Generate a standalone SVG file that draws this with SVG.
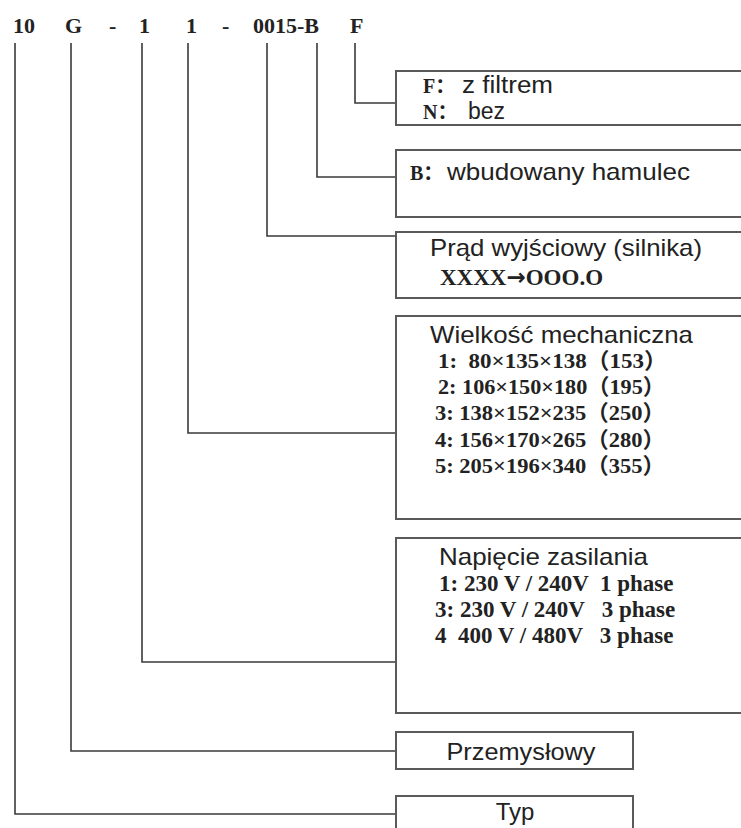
<svg xmlns="http://www.w3.org/2000/svg" width="741" height="828" viewBox="0 0 741 828">
<style>
.box{fill:#fff;stroke:#5a5a5a;stroke-width:2}
.con{fill:none;stroke:#3a3a3a;stroke-width:1.6}
.hd{font-family:"Liberation Serif","Times New Roman",serif;font-weight:bold;font-size:22px;fill:#222}
.sans{font-family:"Liberation Sans",Arial,sans-serif;font-size:24px;fill:#222}
.sm{font-family:"Liberation Sans",Arial,sans-serif;font-size:23px;fill:#222}
.ser{font-family:"Liberation Serif","Times New Roman","Noto Sans CJK SC",serif;font-weight:bold;font-size:22px;fill:#222}
.ser5{font-family:"Liberation Serif","Times New Roman",serif;font-weight:bold;font-size:23px;fill:#222}
.arr{font-family:"DejaVu Sans",sans-serif;font-weight:bold}
.lbl{font-family:"Liberation Serif","Times New Roman","Noto Sans CJK SC",serif;font-weight:bold;font-size:20px;fill:#222}
</style>
<rect width="741" height="828" fill="#fff"/>
<g id="header">
<text class="hd" x="13" y="33">10</text>
<text class="hd" x="65" y="33">G</text>
<text class="hd" x="109" y="33">-</text>
<text class="hd" x="139" y="33">1</text>
<text class="hd" x="186" y="33">1</text>
<text class="hd" x="222" y="33">-</text>
<text class="hd" x="253" y="33">0015-B</text>
<text class="hd" x="350" y="33">F</text>
</g>
<g id="connectors">
<polyline class="con" points="355,43 355,103 396,103"/>
<polyline class="con" points="317,43 317,177 396,177"/>
<polyline class="con" points="267,43 267,236 396,236"/>
<polyline class="con" points="188,43 188,433 396,433"/>
<polyline class="con" points="142,43 142,662 396,662"/>
<polyline class="con" points="71,43 71,751 396,751"/>
<polyline class="con" points="15,43 15,814 396,814"/>
</g>
<g id="node-filter">
<rect class="box" x="396" y="71" width="400" height="54"/>
<text class="lbl" x="423" y="93">F：</text>
<text class="sm" x="462" y="93" textLength="91" lengthAdjust="spacingAndGlyphs">z filtrem</text>
<text class="lbl" x="423" y="119">N：</text>
<text class="sm" x="468" y="119">bez</text>
</g>
<g id="node-brake">
<rect class="box" x="396" y="150" width="400" height="67"/>
<text class="lbl" x="410" y="180">B：</text>
<text class="sans" x="447" y="180" textLength="243" lengthAdjust="spacingAndGlyphs">wbudowany hamulec</text>
</g>
<g id="node-current">
<rect class="box" x="396" y="232" width="400" height="66"/>
<text class="sans" x="430" y="256" textLength="272" lengthAdjust="spacingAndGlyphs">Prąd wyjściowy (silnika)</text>
<text class="ser5" x="440" y="285">XXXX<tspan class="arr">→</tspan>OOO.O</text>
</g>
<g id="node-size">
<rect class="box" x="396" y="316" width="400" height="203"/>
<text class="sans" x="430" y="343" textLength="263" lengthAdjust="spacingAndGlyphs">Wielkość mechaniczna</text>
<text class="ser" x="438" y="368" xml:space="preserve" textLength="229" lengthAdjust="spacingAndGlyphs">1:  80×135×138（153）</text>
<text class="ser" x="438" y="394" textLength="227" lengthAdjust="spacingAndGlyphs">2: 106×150×180（195）</text>
<text class="ser" x="435" y="420" textLength="230" lengthAdjust="spacingAndGlyphs">3: 138×152×235（250）</text>
<text class="ser" x="435" y="447" textLength="230" lengthAdjust="spacingAndGlyphs">4: 156×170×265（280）</text>
<text class="ser" x="435" y="473" textLength="230" lengthAdjust="spacingAndGlyphs">5: 205×196×340（355）</text>
</g>
<g id="node-voltage">
<rect class="box" x="396" y="538" width="400" height="175"/>
<text class="sans" x="439" y="565" textLength="209" lengthAdjust="spacingAndGlyphs">Napięcie zasilania</text>
<text class="ser5" x="439" y="591" xml:space="preserve">1: 230 V / 240V  1 phase</text>
<text class="ser5" x="435" y="617" xml:space="preserve">3: 230 V / 240V   3 phase</text>
<text class="ser5" x="435" y="643" xml:space="preserve">4  400 V / 480V   3 phase</text>
</g>
<g id="node-industrial">
<rect class="box" x="396" y="732" width="237" height="37"/>
<text class="sans" x="521" y="760" text-anchor="middle" textLength="149" lengthAdjust="spacingAndGlyphs">Przemysłowy</text>
</g>
<g id="node-type">
<rect class="box" x="396" y="796" width="237" height="60"/>
<text class="sans" x="515" y="820" text-anchor="middle">Typ</text>
</g>
</svg>
